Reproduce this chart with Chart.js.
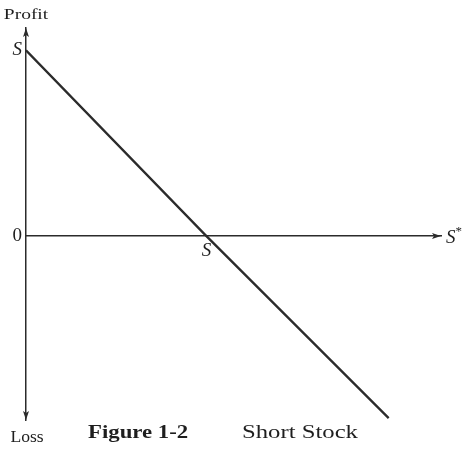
<!DOCTYPE html>
<html>
<head>
<meta charset="utf-8">
<script src="https://cdn.jsdelivr.net/npm/chart.js@4.4.1/dist/chart.umd.min.js"></script>
<style>
  html, body { margin: 0; padding: 0; background: #ffffff; }
  #wrap { width: 464px; height: 450px; position: relative; }
</style>
</head>
<body>
<div id="wrap"><canvas id="c" width="464" height="450"></canvas></div>
<script>
// ---- data ----
const stockPriceAtExpiry = [0, 100, 201];   // S* (x), S = 100
const shortStockProfit  = [100, 0, -98];    // profit of the short stock position
const yTickValues = [0, 100];
const yTickLabels = ['0', 'S'];
const xTickValues = [100];
const xTickLabels = ['S'];
const xAxisTitle = 'S';
const yTopTitle = 'Profit';
const yBottomTitle = 'Loss';
const captionBold = 'Figure 1-2';
const captionText = 'Short Stock';

const INK = '#2b2b2b';
const SERIF = '"Liberation Serif", "Times New Roman", serif';

const points = stockPriceAtExpiry.map((x, i) => ({ x: x, y: shortStockProfit[i] }));

function arrow(ctx, x, y, dx, dy) {
  const len = 9, half = 3;
  const px = -dy, py = dx;
  ctx.beginPath();
  ctx.moveTo(x, y);
  ctx.lineTo(x - dx * len + px * half, y - dy * len + py * half);
  ctx.lineTo(x - dx * (len - 2), y - dy * (len - 2));
  ctx.lineTo(x - dx * len - px * half, y - dy * len - py * half);
  ctx.closePath();
  ctx.fill();
}

function stretchedText(ctx, text, x, y, font, sx, align) {
  ctx.save();
  ctx.font = font;
  const w = ctx.measureText(text).width * sx;
  let left = x;
  if (align === 'center') left = x - w / 2;
  ctx.translate(left, y);
  ctx.scale(sx, 1);
  ctx.textAlign = 'left';
  ctx.textBaseline = 'alphabetic';
  ctx.fillText(text, 0, 0);
  ctx.restore();
}

const decorPlugin = {
  id: 'decor',
  afterDraw(chart) {
    const ctx = chart.ctx;
    const xs = chart.scales.x, ys = chart.scales.y;
    const ca = chart.chartArea;
    const x0 = xs.getPixelForValue(0);
    const y0 = ys.getPixelForValue(0);
    ctx.save();
    ctx.fillStyle = INK;
    // arrowheads
    arrow(ctx, x0, ca.top, 0, -1);
    arrow(ctx, x0, ca.bottom, 0, 1);
    arrow(ctx, ca.right, y0, 1, 0);
    // axis end labels
    ctx.fillStyle = '#1e1e1e';
    stretchedText(ctx, yTopTitle, x0, ca.top - 9, '15px ' + SERIF, 1.3, 'center');
    stretchedText(ctx, yBottomTitle, x0 + 1, ca.bottom + 22, '16px ' + SERIF, 1.1, 'center');
    // S* at right end of x axis
    ctx.font = 'italic 19px ' + SERIF;
    ctx.textAlign = 'left';
    ctx.textBaseline = 'alphabetic';
    ctx.fillText(xAxisTitle, ca.right + 5, y0 + 7);
    const sw = ctx.measureText(xAxisTitle).width;
    ctx.font = '13px ' + SERIF;
    ctx.fillText('*', ca.right + 5 + sw, y0 - 1);
    // caption
    stretchedText(ctx, captionBold, 88, ca.bottom + 18, 'bold 19px ' + SERIF, 1.2, 'left');
    stretchedText(ctx, captionText, 242, ca.bottom + 18, '19px ' + SERIF, 1.3, 'left');
    ctx.restore();
  }
};

new Chart(document.getElementById('c'), {
  type: 'scatter',
  data: {
    datasets: [{
      data: points,
      showLine: true,
      borderColor: INK,
      borderWidth: 2.3,
      pointRadius: 0,
      fill: false,
      tension: 0
    }]
  },
  options: {
    responsive: false,
    animation: false,
    layout: { padding: { top: 28, bottom: 30, left: 0, right: 23 } },
    plugins: { legend: { display: false }, tooltip: { enabled: false }, title: { display: false } },
    scales: {
      x: {
        type: 'linear',
        min: 0,
        max: 230,
        position: { y: 0 },
        grid: { display: false, drawTicks: false },
        border: { display: true, color: INK, width: 1.5 },
        afterBuildTicks: (s) => { s.ticks = xTickValues.map(v => ({ value: v })); },
        ticks: {
          autoSkip: false,
          maxRotation: 0,
          padding: 4,
          color: '#1e1e1e',
          font: { family: SERIF, size: 19, style: 'italic' },
          callback: (v) => { const i = xTickValues.indexOf(v); return i >= 0 ? xTickLabels[i] : ''; }
        }
      },
      y: {
        type: 'linear',
        min: -99,
        max: 112,
        position: 'left',
        grid: { display: false, drawTicks: false },
        border: { display: true, color: INK, width: 1.5 },
        afterBuildTicks: (s) => { s.ticks = yTickValues.map(v => ({ value: v })); },
        afterFit: (s) => { s.width = 26; },
        ticks: {
          autoSkip: false,
          padding: 4,
          color: '#1e1e1e',
          font: (c) => ({ family: SERIF, size: 19, style: (c.tick && c.tick.value === 100) ? 'italic' : 'normal' }),
          callback: (v) => { const i = yTickValues.indexOf(v); return i >= 0 ? yTickLabels[i] : ''; }
        }
      }
    }
  },
  plugins: [decorPlugin]
});
</script>
</body>
</html>
